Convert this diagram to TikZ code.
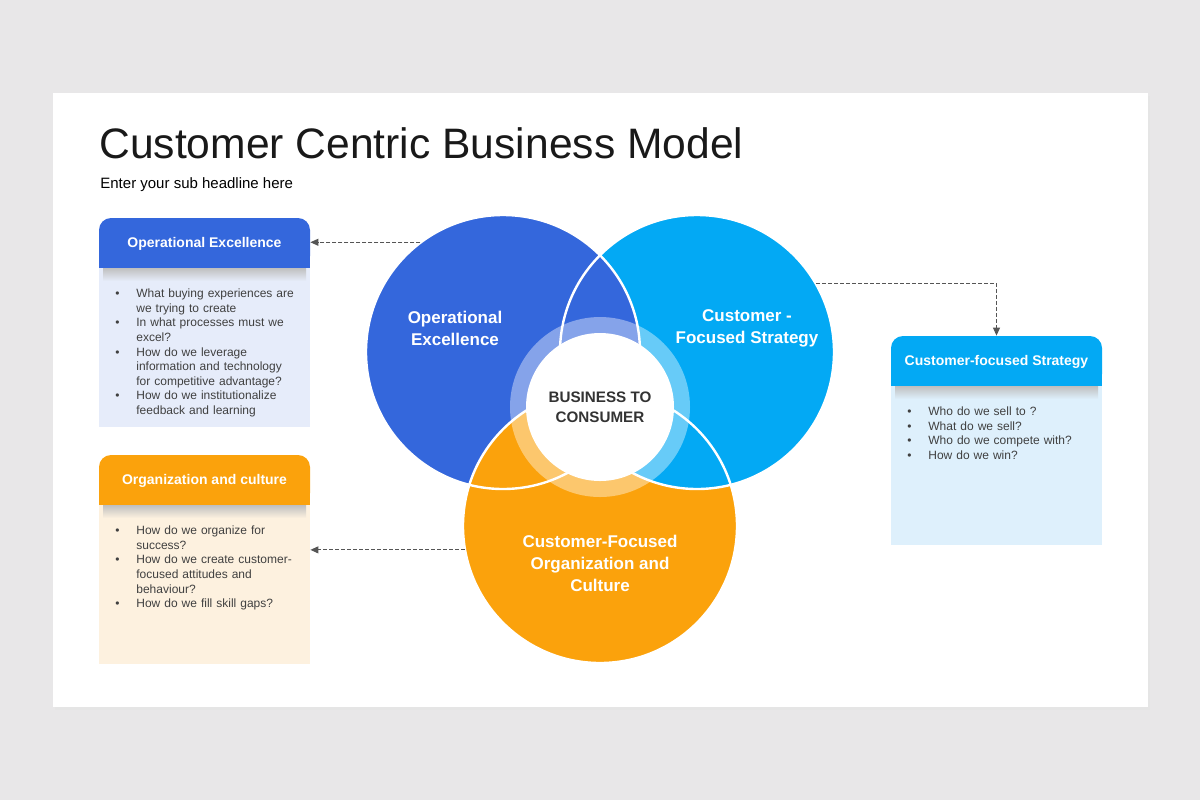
\documentclass[tikz,border=0pt]{standalone}
\usepackage{fontspec}
\setmainfont{Liberation Sans}
\usetikzlibrary{arrows.meta,positioning,calc}
\usepackage{xcolor}

\definecolor{opblue}{HTML}{3467DC}
\definecolor{csblue}{HTML}{03A9F4}
\definecolor{orgorange}{HTML}{FBA20C}
\definecolor{opfill}{HTML}{E6ECFA}
\definecolor{orgfill}{HTML}{FDF1DF}
\definecolor{csfill}{HTML}{DEF0FC}
\definecolor{pagegray}{HTML}{E8E7E8}
\definecolor{bodytext}{HTML}{404040}
\definecolor{linkgray}{HTML}{555555}

\newcommand{\bitem}[1]{\noindent\hangindent=10.5pt\hangafter=1\makebox[10.5pt][l]{\textbullet}#1\par}

\begin{document}
\begin{tikzpicture}[x=0.5pt, y=-0.5pt,
  venn/.style={circle, minimum size=137pt, inner sep=0pt},
  headbox/.style={rectangle, rounded corners=6pt, minimum width=105.5pt, minimum height=25pt,
    inner sep=0pt, text=white, text depth=0.5pt, font=\fontsize{7}{8}\selectfont\bfseries},
  bodybox/.style={rectangle, minimum width=105.5pt, minimum height=79.5pt, inner sep=0pt},
  itemtext/.style={anchor=north west, inner sep=0pt, text width=95pt, align=left,
    text=bodytext, font=\fontsize{6}{7.3}\selectfont},
  venntext/.style={text=white, align=center, font=\fontsize{8.5}{11}\selectfont\bfseries},
  link/.style={linkgray, line width=0.5pt, dash pattern=on 2pt off 1pt,
    -{Triangle[length=4pt,width=3.5pt]}}]
  \useasboundingbox (0,0) rectangle (1200,800);

  %% Page and slide
  \fill[pagegray] (0,0) rectangle (1200,800);
  \fill[black!10] (55,96) rectangle (1150,710);
  \fill[white] (53,93) rectangle (1148,707);

  %% Title
  \node[anchor=base west, inner sep=0pt, text=black!90, font=\fontsize{21.3}{25}\selectfont]
    (title) at (99,158) {Customer Centric Business Model};
  \node[anchor=base west, inner sep=0pt, font=\fontsize{7.5}{9}\selectfont]
    (subtitle) at (100,188) {Enter your sub headline here};

  %% Side boxes: header strip + body panel
  \foreach \nm/\x/\y/\hc/\bc/\lbl in {op/204.5/243/opblue/opfill/Operational Excellence,
      org/204.5/480/orgorange/orgfill/Organization and culture,
      cs/996.5/361/csblue/csfill/Customer-focused Strategy}{
    \node[bodybox, fill=\bc] (\nm-body) at (\x,\y+104.5) {};
    \fill[\hc] (\x-105.5,\y) rectangle (\x+105.5,\y+25);
    \node[headbox, fill=\hc] (\nm-head) at (\x,\y) {\lbl};
    \shade[top color=black!25, bottom color=\bc] (\x-101.5,\y+25) rectangle (\x+101.5,\y+38);
  }

  %% Box lists
  \node[itemtext] (op-list) at (115,288.5) {%
    \bitem{What buying experiences are\newline we trying to create}%
    \bitem{In what processes must we\newline excel?}%
    \bitem{How do we leverage\newline information and technology\newline for competitive advantage?}%
    \bitem{How do we institutionalize\newline feedback and learning}};
  \node[itemtext] (org-list) at (115,525.5) {%
    \bitem{How do we organize for\newline success?}%
    \bitem{How do we create customer-\newline focused attitudes and\newline behaviour?}%
    \bitem{How do we fill skill gaps?}};
  \node[itemtext] (cs-list) at (907,406.5) {%
    \bitem{Who do we sell to ?}%
    \bitem{What do we sell?}%
    \bitem{Who do we compete with?}%
    \bitem{How do we win?}};

  %% Venn circles
  \node[venn, fill=opblue] (op-circ) at (503,352) {};
  \node[venn, fill=csblue] (cs-circ) at (697,352) {};
  \node[venn, fill=orgorange] (org-circ) at (600,526) {};
  %% overlaps
  \begin{scope}
    \clip (697,352) circle (137);
    \fill[opblue] (503,352) circle (137);
  \end{scope}
  \begin{scope}
    \clip (600,526) circle (137);
    \fill[orgorange] (503,352) circle (137);
  \end{scope}
  \begin{scope}
    \clip (600,526) circle (137);
    \fill[csblue] (697,352) circle (137);
  \end{scope}
  \draw[white, line width=1.2pt] (503,352) circle (137) (697,352) circle (137) (600,526) circle (137);

  %% Core
  \fill[white, opacity=.4] (600,407) circle (90);
  \node[circle, fill=white, minimum size=74pt, inner sep=0pt, align=center, text=black!80,
    font=\fontsize{7.6}{10}\selectfont\bfseries] (core) at (600,407) {BUSINESS TO\\CONSUMER};

  \node[venntext] (op-label) at (455,328) {Operational\\Excellence};
  \node[venntext] (cs-label) at (747,328) {Customer -\\Focused Strategy};
  \node[venntext] (org-label) at (600,563) {Customer-Focused\\Organization and\\Culture};

  %% Links
  \draw[link] (op-circ.127) -- (op-circ.127 -| op-head.east);
  \draw[link] (org-circ.190) -- (org-circ.190 -| org-body.east);
  \draw[link] (cs-circ.30) -| (cs-head.north);
\end{tikzpicture}
\end{document}
